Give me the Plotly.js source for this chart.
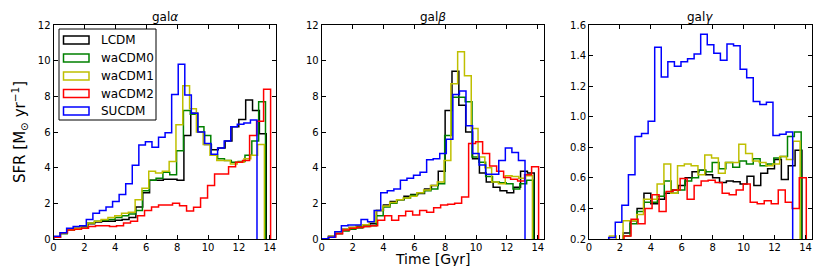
<!DOCTYPE html>
<html><head><meta charset="utf-8">
<script src="https://cdn.plot.ly/plotly-3.0.1.min.js"></script>
<style>html,body{margin:0;padding:0;background:#fff;} #chart{width:830px;height:266px;}</style>
</head><body><div id="chart"></div>
<script>
// ---------- data ----------
const seriesNames = ['LCDM', 'waCDM0', 'waCDM1', 'waCDM2', 'SUCDM'];
const seriesColors = ['#000000', '#008000', '#bfbf00', '#ff0000', '#0000ff'];
const endTime = [13.77, 13.72, 13.65, 14.05, 13.17];   // last bin edge (Gyr) per cosmology
const panelTitles = ['gal<i>α</i>', 'gal<i>β</i>', 'gal<i>γ</i>'];
const xTitle = 'Time [Gyr]';
const yTitle = 'SFR [M<sub>⊙</sub> yr<sup>−1</sup>]';
const xTicks = [0, 2, 4, 6, 8, 10, 12, 14];
const yTicksAB = [0, 2, 4, 6, 8, 10, 12];
const yTicksC = [0.2, 0.4, 0.6, 0.8, 1.0, 1.2, 1.4, 1.6];

// galα  (SFR per time bin, 31 bins from 0 to endTime)
const alphaLCDM = [0.1,0.35,0.5,0.6,0.7,0.85,0.95,1.0,1.0,1.05,1.1,1.2,1.8,2.6,3.3,3.3,3.35,3.35,3.3,5.8,7.05,6.0,5.3,5.0,5.1,5.5,6.3,6.7,7.8,7.2,5.9];
const alphaW0   = [0.1,0.3,0.5,0.55,0.6,0.9,1.0,1.05,1.1,1.2,1.3,1.4,1.6,2.7,3.3,3.4,3.75,3.6,4.95,7.2,7.0,6.3,5.8,4.7,4.5,4.4,4.3,4.35,4.7,5.5,7.7];
const alphaW1   = [0.1,0.35,0.5,0.6,0.75,0.9,1.0,1.1,1.2,1.3,1.45,1.5,2.2,2.85,3.8,3.7,3.8,4.34,6.4,8.6,7.3,6.0,5.3,4.7,4.4,4.4,4.2,4.3,4.5,4.7,5.3];
const alphaW2   = [0.1,0.35,0.5,0.55,0.6,0.7,0.75,0.75,0.7,0.75,0.9,1.0,1.3,1.6,1.8,1.9,1.9,2.0,1.87,1.57,1.78,2.3,3.0,3.64,3.65,4.05,4.3,4.4,5.8,6.6,8.4];
const alphaSU   = [0.15,0.35,0.6,0.7,0.75,1.1,1.45,1.6,1.8,2.1,2.5,3.1,4.13,5.27,5.46,5.14,5.7,5.96,8.1,9.8,8.07,7.05,6.0,5.36,4.75,5.1,5.5,6.3,6.43,6.5,6.67];

// galβ
const betaLCDM = [0.02,0.15,0.35,0.55,0.65,0.72,0.78,0.85,1.6,1.9,2.1,2.2,2.4,2.5,2.55,2.8,3.0,3.8,7.2,9.4,7.5,6.0,4.5,3.7,3.2,2.9,2.7,2.6,2.9,3.8,3.7];
const betaW0   = [0.02,0.1,0.3,0.45,0.55,0.62,0.7,0.75,1.3,1.8,2.0,2.2,2.3,2.45,2.6,2.7,2.8,3.1,5.8,7.95,7.95,7.7,4.6,4.3,3.5,3.2,3.15,3.1,2.8,3.1,3.3];
const betaW1   = [0.02,0.15,0.35,0.55,0.65,0.75,0.8,0.95,1.6,1.85,2.05,2.2,2.3,2.4,2.6,2.75,3.0,3.2,4.4,8.7,10.5,9.15,6.2,4.6,4.0,3.2,3.1,3.55,3.5,3.4,3.55];
const betaW2   = [0.0,0.1,0.3,0.5,0.6,0.65,0.7,0.75,1.05,1.3,1.05,1.3,1.55,1.35,1.6,1.5,1.75,1.9,1.95,2.0,2.35,5.35,5.45,4.8,4.1,3.8,3.45,3.35,3.25,3.6,4.05];
const betaSU   = [0.02,0.1,0.4,0.75,0.78,0.78,1.1,0.97,1.6,2.6,2.7,2.8,3.3,3.4,3.57,3.74,4.45,4.5,4.8,5.6,8.1,8.3,6.35,4.8,4.15,3.63,3.63,4.4,5.1,4.85,4.4];

// galγ
const gammaLCDM = [0.0,0.02,0.05,0.1,0.15,0.24,0.32,0.4,0.5,0.43,0.46,0.5,0.52,0.55,0.6,0.64,0.65,0.62,0.6,0.57,0.58,0.575,0.56,0.61,0.55,0.63,0.66,0.72,0.59,0.68,0.78];
const gammaW0   = [0.0,0.02,0.05,0.1,0.15,0.22,0.3,0.38,0.44,0.44,0.48,0.58,0.5,0.52,0.58,0.6,0.65,0.64,0.7,0.66,0.7,0.67,0.71,0.69,0.725,0.68,0.69,0.73,0.74,0.87,0.9];
const gammaW1   = [0.05,0.1,0.15,0.22,0.15,0.32,0.32,0.36,0.46,0.46,0.56,0.69,0.5,0.68,0.69,0.68,0.62,0.75,0.73,0.63,0.7,0.7,0.82,0.76,0.71,0.7,0.68,0.69,0.74,0.72,0.84];
const gammaW2   = [0.0,0.0,0.05,0.1,0.15,0.22,0.33,0.3,0.4,0.49,0.38,0.51,0.52,0.595,0.46,0.55,0.58,0.585,0.57,0.5,0.49,0.52,0.56,0.44,0.43,0.45,0.43,0.52,0.44,0.4,0.6];
const gammaSU   = [0.05,0.1,0.15,0.21,0.31,0.42,0.62,0.87,0.89,0.97,1.455,1.26,1.36,1.33,1.36,1.38,1.41,1.54,1.47,1.415,1.37,1.475,1.465,1.31,1.255,1.1,1.08,1.095,0.877,0.885,0.9];

const panelData = [
  [alphaLCDM, alphaW0, alphaW1, alphaW2, alphaSU],
  [betaLCDM, betaW0, betaW1, betaW2, betaSU],
  [gammaLCDM, gammaW0, gammaW1, gammaW2, gammaSU]
];

// ---------- build step-histogram traces ----------
const traces = [];
panelData.forEach((series, pi) => {
  series.forEach((vals, si) => {
    const T = endTime[si], N = vals.length, w = T / N;
    const x = [0], y = [0];
    for (let i = 0; i < N; i++) { x.push(i * w); y.push(vals[i]); }
    x.push(T); y.push(0);
    traces.push({
      type: 'scatter', mode: 'lines', x: x, y: y,
      xaxis: pi === 0 ? 'x' : 'x' + (pi + 1),
      yaxis: pi === 0 ? 'y' : 'y' + (pi + 1),
      line: { color: seriesColors[si], width: 1.5, shape: 'hv' },
      name: seriesNames[si], showlegend: false, hoverinfo: 'skip'
    });
  });
});

// ---------- layout ----------
const W = 830, H = 266;
const font = 'DejaVu Sans';
const plotTop = 25, plotBottom = 239;
const xDomains = [[53.5, 276], [321.7, 544], [589, 811.7]];
const yDom = [1 - plotBottom / H, 1 - plotTop / H];

function xAxis(i) {
  return {
    domain: [xDomains[i][0] / W, xDomains[i][1] / W], anchor: i === 0 ? 'y' : 'y' + (i + 1),
    range: [0, 14.4], tickvals: xTicks, ticks: 'inside', ticklen: 4, tickwidth: 1, tickcolor: '#000',
    mirror: 'allticks', showline: true, linecolor: '#000', linewidth: 1,
    showgrid: false, zeroline: false, fixedrange: true, ticklabelstandoff: -1,
    tickfont: { family: font, size: 10, color: '#000' }
  };
}
function yAxis(i, range, ticks, fmt, titleText) {
  const a = {
    domain: yDom, anchor: i === 0 ? 'x' : 'x' + (i + 1),
    range: range, tickvals: ticks, tickformat: fmt, ticks: 'inside', ticklen: 4, tickwidth: 1, tickcolor: '#000',
    mirror: 'allticks', showline: true, linecolor: '#000', linewidth: 1,
    showgrid: false, zeroline: false, fixedrange: true,
    tickfont: { family: font, size: 10, color: '#000' }
  };
  if (titleText) a.title = { text: titleText, font: { family: font, size: 15, color: '#000' }, standoff: 8 };
  return a;
}

const annotations = panelTitles.map((t, i) => ({
  text: t, xref: (i === 0 ? 'x' : 'x' + (i + 1)) + ' domain', x: 0.5, yref: 'paper', y: 1 - 17 / H,
  xanchor: 'center', yanchor: 'middle', showarrow: false, font: { family: font, size: 12, color: '#000' }
}));
// shared x-axis label under the middle panel
annotations.push({ text: xTitle, xref: 'x2 domain', x: 0.5, yref: 'paper', y: 1 - 258.5 / H,
  xanchor: 'center', yanchor: 'middle', showarrow: false, font: { family: font, size: 14, color: '#000' } });

// custom legend (outlined patches as in the original) inside panel 1
const shapes = [];
const plotH = plotBottom - plotTop, plotW = xDomains[0][1] - xDomains[0][0];
const fx = px => (px - xDomains[0][0]) / plotW;
const fy = py => 1 - (py - plotTop) / plotH;
shapes.push({ type: 'rect', xref: 'x domain', yref: 'y domain', x0: fx(59), x1: fx(156), y0: fy(120), y1: fy(29),
  line: { color: '#000', width: 1 }, fillcolor: '#fff', layer: 'above' });
const rowY = [40, 58, 76, 93.5, 111];
seriesNames.forEach((n, si) => {
  shapes.push({ type: 'rect', xref: 'x domain', yref: 'y domain', x0: fx(63.5), x1: fx(89), y0: fy(rowY[si] + 4), y1: fy(rowY[si] - 4),
    line: { color: seriesColors[si], width: 1.5 }, fillcolor: 'rgba(0,0,0,0)', layer: 'above' });
  annotations.push({ text: n, xref: 'x domain', yref: 'y domain', x: fx(99), y: fy(rowY[si]), xanchor: 'left', yanchor: 'middle',
    showarrow: false, font: { family: font, size: 12, color: '#000' } });
});

const layout = {
  width: W, height: H, margin: { l: 0, r: 0, t: 0, b: 0 },
  paper_bgcolor: '#fff', plot_bgcolor: '#fff', showlegend: false,
  xaxis: xAxis(0), xaxis2: xAxis(1), xaxis3: xAxis(2),
  yaxis: yAxis(0, [0, 12], yTicksAB, 'd', yTitle),
  yaxis2: yAxis(1, [0, 12], yTicksAB, 'd'),
  yaxis3: yAxis(2, [0.2, 1.6], yTicksC, '.1f'),
  annotations: annotations, shapes: shapes
};

Plotly.newPlot('chart', traces, layout, { staticPlot: true, displayModeBar: false });
</script>
</body></html>
